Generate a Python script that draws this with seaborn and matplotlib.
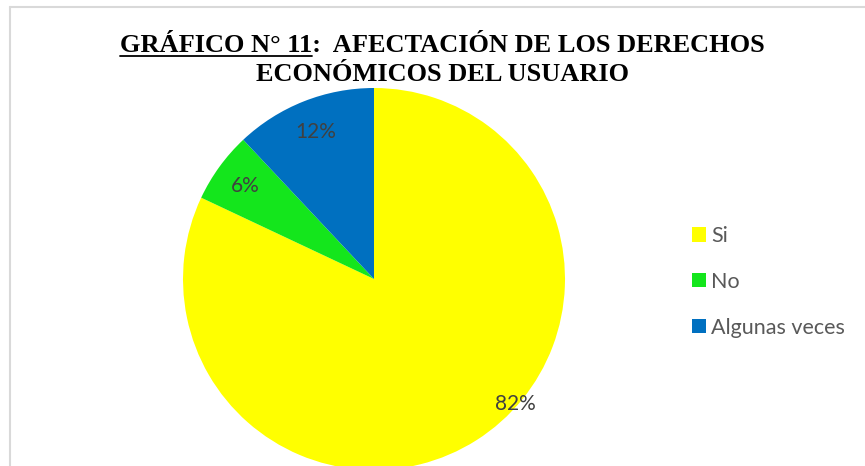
import matplotlib
matplotlib.use("Agg")
import matplotlib.pyplot as plt
from matplotlib.lines import Line2D
import seaborn as sns
import numpy as np

categories = ["Si", "No", "Algunas veces"]
values = [82, 6, 12]
colors = ["#FFFF00", "#14E61C", "#0070C0"]
title_line1 = "GRÁFICO N° 11:  AFECTACIÓN DE LOS DERECHOS"
title_underlined = "GRÁFICO N° 11"
title_line2 = "ECONÓMICOS DEL USUARIO"

sns.set_theme(style="white")
plt.rcParams['font.family'] = ['Lato', 'DejaVu Sans']

W, H = 865, 466
fig = plt.figure(figsize=(W / 100, H / 100), dpi=100)
fig.patch.set_facecolor("white")

R = 191.0
cx, cy = 374.0, H - 279.0
lim = 1.05
side = 2 * lim * R
ax = fig.add_axes([(cx - side / 2) / W, (cy - side / 2) / H, side / W, side / H])

wedges, texts, autotexts = ax.pie(
    values, colors=colors, startangle=90, counterclock=False,
    autopct=lambda p: f"{p:.0f}%", pctdistance=0.83,
    wedgeprops=dict(linewidth=0),
    textprops=dict(color="#404040", fontsize=15),
)
ax.set_xlim(-lim, lim)
ax.set_ylim(-lim, lim)
ax.set_aspect("equal")
ax.axis("off")

# Excel-style best-fit position for the large slice label (near the rim)
ang = np.deg2rad(-41.4)
autotexts[0].set_position((0.99 * np.cos(ang), 0.99 * np.sin(ang)))

# legend
leg = fig.legend(wedges, categories, loc="upper left",
                 bbox_to_anchor=(692 / W, 1 - 226 / H), frameon=False,
                 handlelength=0.65, handleheight=0.65, handletextpad=0.25,
                 labelspacing=1.2, fontsize=15.5, borderaxespad=0, borderpad=0)
for t in leg.get_texts():
    t.set_color("#595959")

# title
tfont = dict(family="Liberation Serif", fontweight="bold", fontsize=19, color="black")
t1 = fig.text(442.5 / W, 1 - 52 / H, title_line1, ha="center", va="baseline", **tfont)
t2 = fig.text(442.5 / W, 1 - 81 / H, title_line2, ha="center", va="baseline", **tfont)

fig.canvas.draw()
r = fig.canvas.get_renderer()
bb = t1.get_window_extent(r)
tmp = fig.text(0, 0, title_underlined, **tfont)
wu = tmp.get_window_extent(r).width
tmp.remove()
uy = (H - 56) / H
fig.add_artist(Line2D([bb.x0 / W, (bb.x0 + wu) / W], [uy, uy], color="black", lw=1.3,
                      transform=fig.transFigure))

# chart border
bc = "#D9D9D9"
fig.add_artist(Line2D([9.5 / W, 1.0], [(H - 6.5) / H, (H - 6.5) / H], color=bc, lw=1.5,
                      transform=fig.transFigure))
fig.add_artist(Line2D([9.5 / W, 9.5 / W], [0, (H - 6.5) / H], color=bc, lw=1.5,
                      transform=fig.transFigure))

fig.savefig("out.png", dpi=100)
